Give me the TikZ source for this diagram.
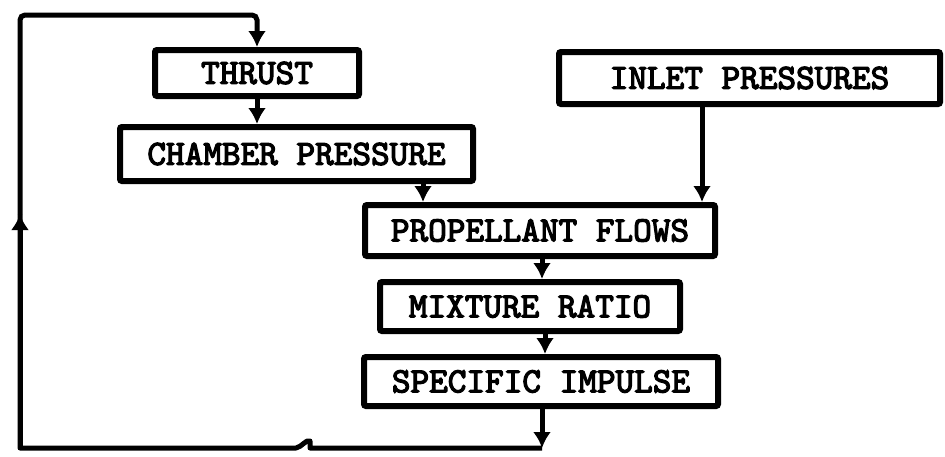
\documentclass[tikz,border=0pt]{standalone}
\usepackage{fontspec}
\newfontfamily\twfont{lmmono10-regular.otf}[FakeBold=3.5]
\usetikzlibrary{arrows.meta}
\begin{document}
\begin{tikzpicture}[x=1pt,y=-1pt,
  box/.style={draw,line width=6pt,rounded corners=2pt,inner sep=0pt,
    font=\twfont\fontsize{35.5}{35.5}\selectfont},
  conn/.style={line width=5pt},
  arr/.style={conn,-{Latex[length=16pt,width=18pt]}}]
\useasboundingbox (0,0) rectangle (945,456);
\node[box,minimum width=204pt,minimum height=46pt] (thrust) at (257,73) {THRUST};
\node[box,minimum width=353pt,minimum height=54pt] (chamber) at (296.5,154) {CHAMBER PRESSURE};
\node[box,minimum width=381pt,minimum height=52pt] (inlet) at (749.5,78) {INLET PRESSURES};
\node[box,minimum width=350pt,minimum height=51pt] (prop) at (540,230.5) {PROPELLANT FLOWS};
\node[box,minimum width=300pt,minimum height=49pt] (mix) at (530,306.5) {MIXTURE RATIO};
\node[box,minimum width=354pt,minimum height=49pt] (spec) at (541,381.5) {SPECIFIC IMPULSE};
\coordinate (xa) at (423,0);
\coordinate (xb) at (702,0);
\coordinate (xc) at (542,0);
\coordinate (xd) at (545,0);
\coordinate (br) at (542,448);
\coordinate (bl) at (20,448);
\coordinate (ml) at (20,214);
\coordinate (tl) at (20,15);
\draw[arr] (thrust.south) -- (thrust.south |- chamber.north);
\draw[arr] (chamber.south -| xa) -- (prop.north -| xa);
\draw[arr] (inlet.south -| xb) -- (prop.north -| xb);
\draw[arr] (prop.south -| xc) -- (mix.north -| xc);
\draw[arr] (mix.south -| xd) -- (spec.north -| xd);
\draw[arr] (spec.south -| br) -- (br);
\draw[conn,line join=round] (br) -- (310,448) -- (310,441) .. controls (306,439) and (302,447) .. (296,448) -- (bl) -- (ml);
\draw[arr] (bl) -- (ml);
\draw[arr,rounded corners=5pt] (ml) -- (tl) -| (thrust.north);
\end{tikzpicture}
\end{document}
